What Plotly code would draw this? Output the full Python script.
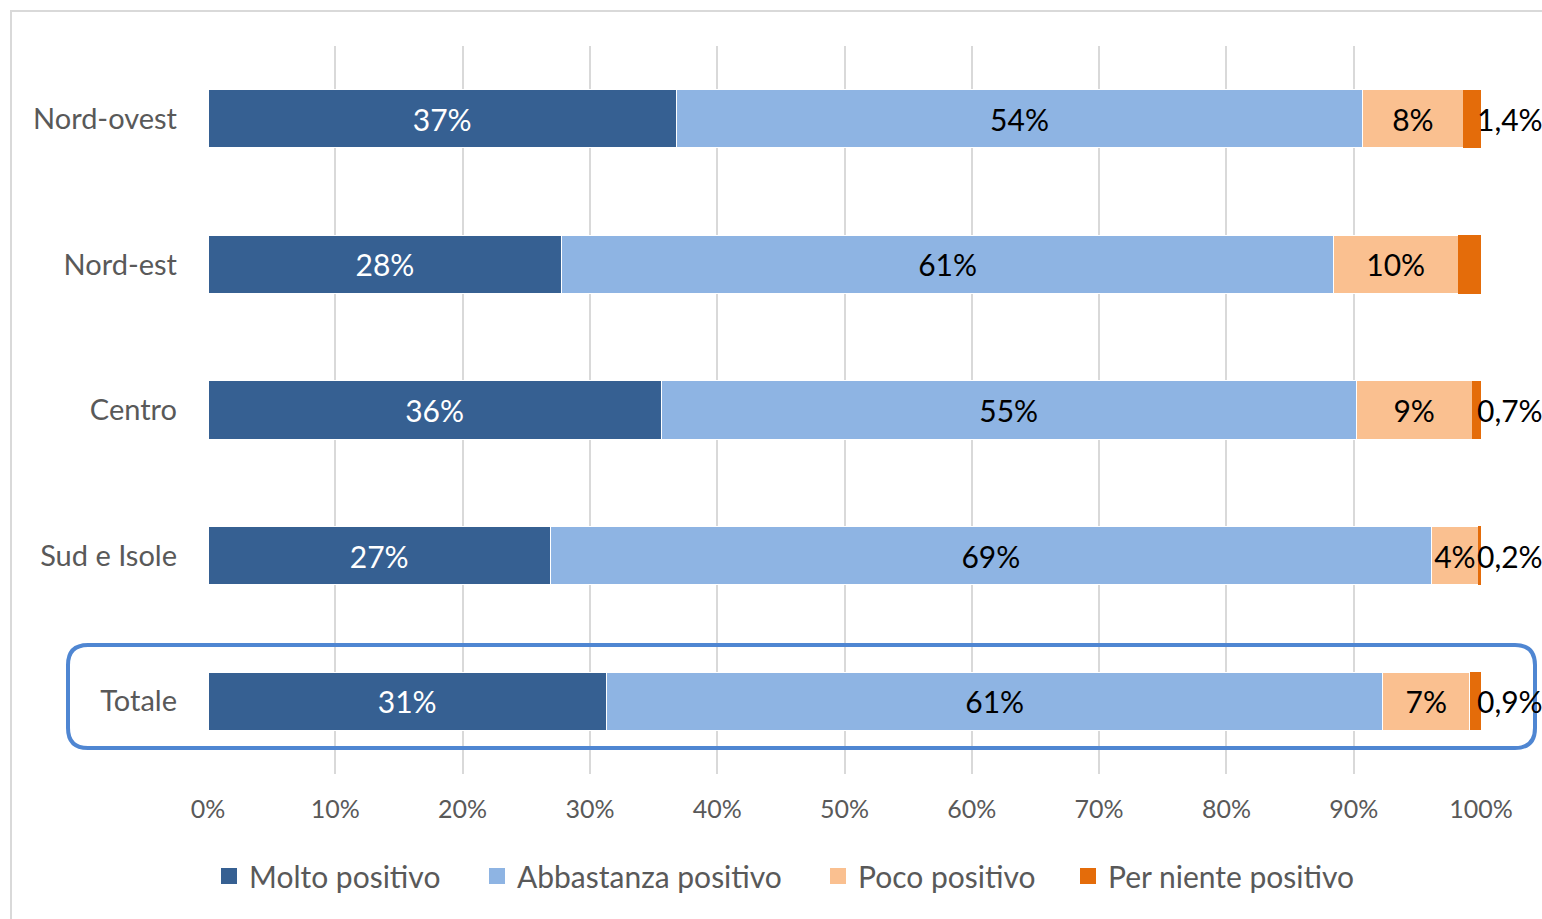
import plotly.graph_objects as go

categories = ["Nord-ovest", "Nord-est", "Centro", "Sud e Isole", "Totale"]
series_names = ["Molto positivo", "Abbastanza positivo", "Poco positivo", "Per niente positivo"]
molto = [36.8, 27.8, 35.6, 26.9, 31.3]
abbastanza = [53.9, 60.6, 54.6, 69.2, 61.0]
poco = [7.9, 9.8, 9.1, 3.7, 6.8]
per_niente = [1.4, 1.8, 0.7, 0.2, 0.9]
per_niente_labels = ["1,4%", "", "0,7%", "0,2%", "0,9%"]
x_ticks = [0, 10, 20, 30, 40, 50, 60, 70, 80, 90, 100]
x_tick_labels = [f"{t}%" for t in x_ticks]

colors = ["#366092", "#8EB4E3", "#FAC090", "#E46C0A"]
text_colors = ["white", "black", "black", "black"]
FONT = "Lato"
GRAY = "#595959"

W, H = 1542, 919
ML, MR, MT, MB = 208, 61, 46, 145
PW, PH = W - ML - MR, H - MT - MB

# pixel x of each legend entry's left edge
legend_px = [209, 477, 818, 1068]


def px_x(x):
    return (x - ML) / PW


def px_y(y):
    return (H - MB - y) / PH


fig = go.Figure()
all_vals = [molto, abbastanza, poco, per_niente]
legend_ids = ["legend", "legend2", "legend3", "legend4"]
for i, (name, vals) in enumerate(zip(series_names, all_vals)):
    if i < 3:
        txt = [f"{round(v)}%" for v in vals]
        fig.add_trace(go.Bar(
            y=categories, x=vals, name=name, orientation="h",
            marker=dict(color=colors[i], line=dict(width=1, color="white")),
            text=txt, textposition="inside", insidetextanchor="middle",
            textangle=0, constraintext="none",
            insidetextfont=dict(family=FONT, size=30, color=text_colors[i]),
            hoverinfo="x+name", showlegend=False,
        ))
    else:
        fig.add_trace(go.Bar(
            y=categories, x=vals, name=name, orientation="h",
            marker=dict(color=colors[i], line=dict(width=0)),
            hoverinfo="x+name", showlegend=False,
        ))
    # legend entry with a larger square symbol, each in its own legend box
    fig.add_trace(go.Scatter(
        x=[None], y=[None], mode="markers", name=name,
        marker=dict(symbol="square", size=20, color=colors[i]),
        showlegend=True, hoverinfo="skip", legend=legend_ids[i],
    ))

# labels for the last series, to the right of the stack end
for cat, a, b, c, d, lab in zip(categories, molto, abbastanza, poco, per_niente, per_niente_labels):
    if lab:
        fig.add_annotation(x=a + b + c + d, y=cat, text=lab, showarrow=False,
                           xanchor="left", xshift=-6,
                           font=dict(family=FONT, size=30, color="black"))

# rounded highlight box around "Totale"
x0, x1, y0, y1, r = 68, 1535, 645, 748, 20


def rounded_path(x0, y0, x1, y1, r):
    X = px_x
    Y = px_y
    p = f"M {X(x0 + r)},{Y(y0)} L {X(x1 - r)},{Y(y0)} "
    p += f"Q {X(x1)},{Y(y0)} {X(x1)},{Y(y0 + r)} "
    p += f"L {X(x1)},{Y(y1 - r)} Q {X(x1)},{Y(y1)} {X(x1 - r)},{Y(y1)} "
    p += f"L {X(x0 + r)},{Y(y1)} Q {X(x0)},{Y(y1)} {X(x0)},{Y(y1 - r)} "
    p += f"L {X(x0)},{Y(y0 + r)} Q {X(x0)},{Y(y0)} {X(x0 + r)},{Y(y0)} Z"
    return p


fig.add_shape(type="path", xref="paper", yref="paper",
              path=rounded_path(x0, y0, x1, y1, r),
              line=dict(color="#4F86D2", width=4), fillcolor="rgba(0,0,0,0)")

# outer chart border (partially visible)
fig.add_shape(type="line", xref="paper", yref="paper",
              x0=px_x(10), x1=px_x(1560), y0=px_y(11), y1=px_y(11),
              line=dict(color="#D9D9D9", width=2))
fig.add_shape(type="line", xref="paper", yref="paper",
              x0=px_x(11), x1=px_x(11), y0=px_y(10), y1=px_y(930),
              line=dict(color="#D9D9D9", width=2))

legend_common = dict(orientation="h", xanchor="left", yanchor="middle",
                     y=px_y(876), font=dict(family=FONT, size=30, color=GRAY),
                     itemwidth=30, bgcolor="rgba(0,0,0,0)")

fig.update_layout(
    width=W, height=H,
    barmode="stack", bargap=0.6,
    plot_bgcolor="white", paper_bgcolor="white",
    margin=dict(l=ML, r=MR, t=MT, b=MB, autoexpand=False),
    font=dict(family=FONT, color=GRAY),
    xaxis=dict(range=[0, 100], tickvals=x_ticks, ticktext=x_tick_labels,
               showgrid=True, gridcolor="#D9D9D9", gridwidth=2,
               zeroline=False, showline=False, ticks="",
               tickfont=dict(family=FONT, size=25, color=GRAY),
               ticklabelstandoff=18, fixedrange=True),
    yaxis=dict(autorange="reversed", showgrid=False, zeroline=False,
               showline=False, ticks="",
               tickfont=dict(family=FONT, size=29, color=GRAY),
               ticklabelstandoff=30, fixedrange=True),
    legend=dict(x=px_x(legend_px[0]), **legend_common),
    legend2=dict(x=px_x(legend_px[1]), **legend_common),
    legend3=dict(x=px_x(legend_px[2]), **legend_common),
    legend4=dict(x=px_x(legend_px[3]), **legend_common),
    showlegend=True,
)

fig.write_html("out.html", config={"displayModeBar": False},
               post_script="document.body.style.margin='0';document.body.style.overflow='hidden';")
